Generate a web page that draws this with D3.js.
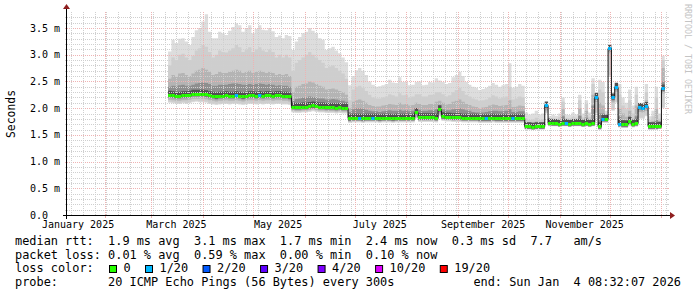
<!DOCTYPE html>
<html lang="en">
<head>
<meta charset="utf-8">
<script src="https://d3js.org/d3.v7.min.js"></script>
<style>
  body { margin: 0; background: #fff; }
  svg text { font-family: "DejaVu Sans Mono", monospace; white-space: pre; }
</style>
</head>
<body>
<svg width="697" height="297"></svg>
<script>
// ---- data (ms), one value per 2-day bucket starting 2025-03-11 ----
var firstDay = "2025-03-11";
var stepDays = 2;

var median = [
  2.25,2.24,2.23,2.23,2.24,2.24,2.25,2.27,2.27,2.27,2.27,2.26,2.24,2.23,2.22,2.23,2.23,2.24,2.23,2.23,
  2.24,2.23,2.22,2.23,2.24,2.24,2.23,2.24,2.23,2.24,2.24,2.23,2.24,2.24,2.23,2.23,2.22,
  2.03,2.02,2.02,2.03,2.03,2.04,2.05,2.04,2.03,2.03,2.02,2.02,2.02,2.01,2.02,2.01,2.01,
  1.81,1.82,1.82,1.82,1.81,1.82,1.82,1.82,1.82,1.81,1.82,1.82,1.82,1.81,1.82,1.82,1.82,1.82,1.82,1.82,
  1.93,1.83,1.83,1.83,1.83,1.83,1.82,1.98,1.85,1.84,1.84,1.83,1.83,1.83,1.82,1.82,1.82,1.82,1.82,1.81,
  1.81,1.81,1.81,1.82,1.81,1.81,1.81,1.81,1.81,1.81,1.81,1.81,1.81,
  1.66,1.66,1.65,1.66,1.66,1.66,
  2.05,
  1.73,1.72,1.72,1.71,1.72,1.72,1.71,1.72,1.72,1.72,1.71,1.72,1.71,1.72,
  2.21,1.66,1.80,1.80,3.12,2.20,2.40,1.71,1.70,1.70,1.76,1.71,1.72,2.02,2.01,2.04,1.66,1.66,1.66,1.67,2.37
];
// smoke: lowest ping, upper quantiles and highest ping
var lo = [
  2.10,2.09,2.08,2.08,2.09,2.08,2.09,2.11,2.12,2.11,2.11,2.10,2.08,2.07,2.06,2.07,2.08,2.08,2.07,2.08,
  2.08,2.07,2.06,2.07,2.08,2.08,2.07,2.08,2.07,2.08,2.08,2.07,2.08,2.08,2.07,2.07,2.06,
  1.92,1.91,1.91,1.92,1.92,1.93,1.94,1.93,1.92,1.92,1.91,1.91,1.91,1.90,1.91,1.90,1.90,
  1.72,1.73,1.73,1.73,1.72,1.73,1.73,1.73,1.73,1.72,1.73,1.73,1.73,1.72,1.73,1.73,1.73,1.73,1.73,1.73,
  1.80,1.74,1.74,1.74,1.74,1.74,1.73,1.85,1.76,1.75,1.75,1.74,1.74,1.74,1.73,1.73,1.73,1.73,1.73,1.72,
  1.72,1.72,1.72,1.73,1.72,1.72,1.72,1.72,1.72,1.72,1.72,1.72,1.72,
  1.61,1.61,1.60,1.61,1.61,1.61,
  1.90,
  1.66,1.66,1.66,1.65,1.66,1.66,1.65,1.66,1.66,1.66,1.65,1.66,1.65,1.66,
  1.90,1.60,1.72,1.72,2.60,1.95,2.10,1.64,1.63,1.63,1.66,1.64,1.65,1.80,1.80,1.85,1.60,1.60,1.60,1.61,2.00
];
var q15 = [
  2.40,2.42,2.41,2.43,2.44,2.42,2.42,2.44,2.46,2.47,2.48,2.47,2.45,2.42,2.42,2.44,2.44,2.44,2.45,2.46,
  2.46,2.45,2.44,2.44,2.45,2.44,2.45,2.46,2.45,2.44,2.45,2.44,2.42,2.43,2.42,2.42,2.40,
  2.14,2.17,2.18,2.20,2.20,2.22,2.21,2.20,2.18,2.18,2.16,2.16,2.17,2.16,2.15,2.14,2.12,
  1.93,1.98,2.00,2.00,1.99,1.97,1.95,1.94,1.94,1.93,1.94,1.95,1.96,1.95,1.95,1.97,1.95,1.96,1.94,1.95,
  2.00,1.97,1.95,1.95,1.96,1.96,1.98,2.05,1.98,1.96,1.96,1.98,1.99,2.00,1.98,1.96,1.95,1.93,1.92,1.92,
  1.92,1.93,1.94,1.95,1.95,1.94,1.94,1.95,1.98,1.93,1.93,1.94,1.94,
  1.70,1.70,1.69,1.70,1.70,1.70,
  2.06,
  1.75,1.75,1.75,1.75,1.85,1.75,1.74,1.76,1.75,1.86,1.75,1.82,1.75,2.05,
  2.22,1.90,1.90,1.82,3.12,2.21,2.40,1.85,1.78,1.76,1.85,1.75,1.85,2.03,2.02,2.06,1.70,1.70,1.78,1.71,2.50
];
var q17 = [
  2.55,2.62,2.60,2.65,2.66,2.62,2.60,2.65,2.70,2.72,2.75,2.72,2.68,2.62,2.64,2.68,2.66,2.66,2.68,2.70,
  2.72,2.70,2.66,2.68,2.70,2.66,2.68,2.70,2.68,2.66,2.68,2.66,2.62,2.64,2.62,2.64,2.60,
  2.30,2.40,2.42,2.45,2.46,2.50,2.48,2.45,2.42,2.40,2.35,2.36,2.37,2.35,2.32,2.30,2.25,
  2.00,2.12,2.15,2.16,2.14,2.10,2.06,2.04,2.03,2.03,2.05,2.06,2.08,2.07,2.06,2.10,2.07,2.08,2.05,2.06,
  2.10,2.08,2.06,2.06,2.08,2.08,2.12,2.14,2.10,2.07,2.08,2.12,2.14,2.16,2.12,2.08,2.06,2.03,2.02,2.00,
  2.01,2.02,2.05,2.07,2.06,2.04,2.05,2.06,2.15,2.02,2.03,2.05,2.04,
  1.74,1.73,1.73,1.75,1.73,1.74,
  2.07,
  1.77,1.78,1.77,1.78,1.98,1.78,1.77,1.79,1.78,2.00,1.78,1.95,1.79,2.25,
  2.24,2.10,2.05,1.84,3.12,2.22,2.41,2.00,1.90,1.84,1.95,1.80,2.05,2.04,2.04,2.15,1.74,1.76,1.98,1.75,2.75
];
var q19 = [
  2.80,2.95,2.90,3.00,3.02,2.95,2.90,2.98,3.08,3.12,3.18,3.15,3.05,2.95,3.00,3.08,3.05,3.04,3.08,3.12,
  3.18,3.14,3.05,3.10,3.14,3.05,3.10,3.14,3.08,3.05,3.10,3.05,2.95,3.00,2.95,3.00,2.95,
  2.70,2.85,2.90,2.95,3.00,3.05,3.00,2.95,2.90,2.85,2.75,2.78,2.80,2.75,2.70,2.65,2.55,
  2.15,2.35,2.40,2.42,2.38,2.32,2.25,2.20,2.18,2.18,2.20,2.22,2.26,2.24,2.22,2.28,2.24,2.25,2.20,2.22,
  2.26,2.26,2.22,2.22,2.25,2.25,2.30,2.30,2.26,2.22,2.24,2.30,2.34,2.38,2.32,2.25,2.22,2.18,2.16,2.14,
  2.15,2.16,2.20,2.24,2.22,2.18,2.20,2.22,2.40,2.16,2.18,2.22,2.20,
  1.80,1.78,1.79,1.82,1.78,1.79,
  2.08,
  1.80,1.82,1.80,1.83,2.12,1.82,1.81,1.84,1.82,2.15,1.83,2.08,1.84,2.45,
  2.26,2.35,2.30,1.88,3.13,2.25,2.42,2.25,2.05,1.98,2.15,1.90,2.25,2.06,2.06,2.30,1.78,1.85,2.20,1.80,2.90
];
var hi = [
  3.06,3.28,3.22,3.30,3.31,3.25,3.18,3.33,3.46,3.50,3.62,3.76,3.43,3.31,3.31,3.43,3.40,3.37,3.45,3.52,
  3.59,3.55,3.43,3.50,3.55,3.40,3.48,3.55,3.47,3.46,3.50,3.44,3.33,3.36,3.31,3.37,3.35,
  3.09,3.25,3.33,3.40,3.43,3.50,3.45,3.40,3.31,3.28,3.09,3.12,3.15,3.08,3.03,2.95,2.86,
  2.43,2.60,2.71,2.75,2.70,2.62,2.50,2.44,2.40,2.41,2.43,2.45,2.53,2.48,2.47,2.58,2.49,2.50,2.43,2.44,
  2.49,2.50,2.43,2.44,2.49,2.48,2.56,2.52,2.49,2.45,2.47,2.58,2.62,2.68,2.60,2.49,2.44,2.40,2.38,2.34,
  2.36,2.38,2.42,2.47,2.44,2.40,2.43,2.45,2.84,2.38,2.40,2.45,2.42,
  1.92,1.88,1.90,1.95,1.88,1.90,
  2.10,
  1.85,1.88,1.86,1.90,2.20,1.88,1.87,1.92,1.88,2.25,1.90,2.15,1.92,2.56,
  2.30,2.53,2.49,1.95,3.15,2.30,2.45,2.45,2.20,2.10,2.35,2.05,2.40,2.10,2.10,2.45,1.85,1.95,2.40,1.90,2.98
];
// buckets where 1 of 20 pings was lost
var lossAt = [20, 27, 57, 61, 95, 103, 113, 119, 128, 130, 132, 133, 134, 135, 141, 142, 143, 148];

var yTicks = [0, 0.5, 1.0, 1.5, 2.0, 2.5, 3.0, 3.5];
var yTickLabels = ["0.0  ", "0.5 m", "1.0 m", "1.5 m", "2.0 m", "2.5 m", "3.0 m", "3.5 m"];
var monthLabels = ["2025-01-01", "2025-03-01", "2025-05-01", "2025-07-01", "2025-09-01", "2025-11-01"];

var lossNames = ["0", "1/20", "2/20", "3/20", "4/20", "10/20", "19/20"];
var lossColors = ["#26ff00", "#00b8ff", "#0059ff", "#5e00ff", "#7e00ff", "#dd00ff", "#ff0000"];

var legendLines = [
  "median rtt:  1.9 ms avg  3.1 ms max  1.7 ms min  2.4 ms now  0.3 ms sd  7.7   am/s",
  "packet loss: 0.01 % avg  0.59 % max  0.00 % min  0.10 % now",
  "loss color:",
  "probe:       20 ICMP Echo Pings (56 Bytes) every 300s"
];
var endLabel = "end: Sun Jan  4 08:32:07 2026";

// ---- layout ----
var svg = d3.select("svg");
var plotL = 67, plotR = 667, plotT = 12, plotB = 215;
var parseT = d3.utcParse("%Y-%m-%d %H:%M:%S");
var parseD = d3.utcParse("%Y-%m-%d");
var endTime = parseT("2026-01-04 08:32:07");
var startTime = d3.utcDay.offset(endTime, -360);

var xScale = d3.scaleUtc().domain([startTime, endTime]).range([plotL, plotR]);
var yScale = d3.scaleLinear().domain([0, 3.8]).range([plotB, plotT]);

svg.append("rect").attr("width", 697).attr("height", 297).attr("fill", "#fff");

// rows for the smoke and the median
var day0 = parseD(firstDay);
var rows = median.map(function(m, i) {
  return {t: d3.utcDay.offset(day0, i * stepDays), med: m, lo: lo[i],
          q15: q15[i], q17: q17[i], q19: q19[i], hi: hi[i], loss: 0};
});
lossAt.forEach(function(i) { rows[i].loss = 1; });
var pts = rows.concat([Object.assign({}, rows[rows.length - 1],
  {t: d3.utcDay.offset(rows[rows.length - 1].t, stepDays)})]);

// smoke bands
var smoke = svg.append("g");
function band(y0, y1, color) {
  var a = d3.area().curve(d3.curveStepAfter)
    .x(function(d) { return xScale(d.t); })
    .y0(y0).y1(y1);
  smoke.append("path").datum(pts).attr("d", a).attr("fill", color);
}
band(function(d) { return yScale(d.lo); }, function(d) { return yScale(d.hi); }, "#dddddd");
band(function(d) { return yScale(d.lo) - 1; }, function(d) { return yScale(d.q19); }, "#cecece");
band(function(d) { return Math.min(yScale(d.lo) - 2, yScale(d.med) + 5); },
     function(d) { return yScale(d.q17); }, "#b4b4b4");
band(function(d) { return yScale(d.med) + 3; },
     function(d) { return Math.min(yScale(d.q15), yScale(d.med) - 1); }, "#8e8e8e");
band(function(d) { return yScale(d.med) + 2; }, function(d) { return yScale(d.med) - 4; }, "#505050");

// grid (drawn over the smoke)
var grid = svg.append("g").attr("shape-rendering", "crispEdges");
var minorCol = "#cfcfcf", majorCol = "#efb3b3";
d3.range(1, 38).forEach(function(k) {
  var y = Math.round(yScale(k / 10)) + 0.5, col = k % 5 === 0 ? majorCol : minorCol;
  grid.append("line").attr("x1", plotL).attr("x2", plotR).attr("y1", y).attr("y2", y)
    .attr("stroke", col).attr("stroke-dasharray", "1,1");
  grid.append("line").attr("x1", plotL - 2).attr("x2", plotL).attr("y1", y).attr("y2", y).attr("stroke", col);
  grid.append("line").attr("x1", plotR).attr("x2", plotR + 2).attr("y1", y).attr("y2", y).attr("stroke", col);
});
var months = d3.utcMonth.range(startTime, endTime);
var monthKeys = months.map(function(d) { return +d; });
d3.utcSunday.range(startTime, endTime).forEach(function(d) {
  if (monthKeys.indexOf(+d) >= 0) return;
  var x = Math.round(xScale(d)) + 0.5;
  grid.append("line").attr("x1", x).attr("x2", x).attr("y1", plotT).attr("y2", plotB)
    .attr("stroke", minorCol).attr("stroke-dasharray", "1,1");
});
months.forEach(function(d) {
  var x = Math.round(xScale(d)) + 0.5;
  grid.append("line").attr("x1", x).attr("x2", x).attr("y1", plotT).attr("y2", plotB)
    .attr("stroke", majorCol).attr("stroke-dasharray", "1,1");
  grid.append("line").attr("x1", x).attr("x2", x).attr("y1", plotB).attr("y2", plotB + 3)
    .attr("stroke", majorCol);
});

// median: dark step line + loss coloured bars
svg.append("path").datum(pts)
  .attr("d", d3.line().curve(d3.curveStepAfter)
    .x(function(d) { return xScale(d.t); })
    .y(function(d) { return Math.round(yScale(d.med)) + 0.5; }))
  .attr("fill", "none").attr("stroke", "#111").attr("stroke-width", 1);
svg.append("g").selectAll("rect").data(rows).join("rect")
  .attr("x", function(d) { return xScale(d.t); })
  .attr("width", function(d) { return xScale(d3.utcDay.offset(d.t, stepDays)) - xScale(d.t); })
  .attr("y", function(d) { return Math.round(yScale(d.med)) - 1; })
  .attr("height", 3)
  .attr("fill", function(d) { return lossColors[d.loss]; });

// axes
var axisG = svg.append("g").attr("shape-rendering", "crispEdges");
axisG.append("line").attr("x1", plotL - 4).attr("x2", plotR + 4)
  .attr("y1", plotB + 0.5).attr("y2", plotB + 0.5).attr("stroke", "#000");
axisG.append("line").attr("x1", plotL - 0.5).attr("x2", plotL - 0.5)
  .attr("y1", plotB + 4).attr("y2", plotT - 4).attr("stroke", "#000");
svg.append("path").attr("d", "M" + (plotR + 3) + "," + (plotB - 3) + "L" + (plotR + 8) + "," + (plotB + 0.5) +
  "L" + (plotR + 3) + "," + (plotB + 4) + "Z").attr("fill", "#8f1f1f");
svg.append("path").attr("d", "M" + (plotL - 4) + "," + (plotT - 3) + "L" + (plotL - 0.5) + "," + (plotT - 8) +
  "L" + (plotL + 3) + "," + (plotT - 3) + "Z").attr("fill", "#8f1f1f");

svg.append("g").selectAll("text").data(yTicks).join("text")
  .attr("x", 30).attr("y", function(d) { return yScale(d) + 3.5; })
  .attr("font-size", "10px").attr("fill", "#000")
  .text(function(d, i) { return yTickLabels[i]; });

svg.append("g").selectAll("text").data(monthLabels).join("text")
  .attr("x", function(d) { return xScale(d3.utcDay.offset(parseD(d), 15)); })
  .attr("y", 228).attr("text-anchor", "middle").attr("font-size", "10px").attr("fill", "#000")
  .text(function(d) { return d3.utcFormat("%B %Y")(parseD(d)); });

svg.append("text").attr("transform", "translate(15,114) rotate(-90)")
  .attr("text-anchor", "middle").attr("font-size", "11.4px").attr("fill", "#000").text("Seconds");

svg.append("text").attr("transform", "translate(685,4) rotate(90)")
  .attr("font-size", "8.3px").attr("fill", "#c4c4c4").text("RRDTOOL / TOBI OETIKER");

// legend
var lineY = [245, 258.7, 272.4, 286];
var charW = 7.17;
svg.append("g").selectAll("text").data(legendLines).join("text")
  .attr("x", 15).attr("y", function(d, i) { return lineY[i]; })
  .attr("font-size", "11.9px").attr("fill", "#000").text(function(d) { return d; });
svg.append("text").attr("x", 681).attr("y", lineY[3]).attr("text-anchor", "end")
  .attr("font-size", "11.9px").attr("fill", "#000").text(endLabel);

var bx = 109;
lossNames.forEach(function(name, i) {
  svg.append("rect").attr("x", bx + 0.5).attr("y", 265.5).attr("width", 7).attr("height", 7)
    .attr("fill", lossColors[i]).attr("stroke", "#000");
  svg.append("text").attr("x", bx + 14.5).attr("y", lineY[2]).attr("font-size", "11.9px")
    .attr("fill", "#000").text(name);
  bx += 14.5 + (name.length + 2) * charW;
});
</script>
</body>
</html>
